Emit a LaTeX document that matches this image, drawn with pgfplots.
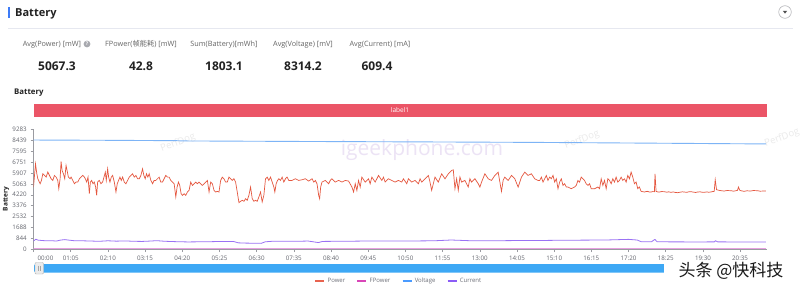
\documentclass[border=0pt]{standalone}
\usepackage{fontspec}
\setmainfont{Open Sans}
\newfontfamily\cjk{Noto Sans CJK SC}
\usepackage{pgfplots}
\usepackage{pgfplotstable}
\pgfplotsset{compat=1.18}
\definecolor{cpower}{HTML}{E5573F}
\definecolor{cfpower}{HTML}{E6A0E0}
\definecolor{cvolt}{HTML}{7DB4F6}
\definecolor{ccur}{HTML}{9A72F4}
\definecolor{lpower}{HTML}{E8634F}
\definecolor{lfpower}{HTML}{D946B8}
\definecolor{lvolt}{HTML}{4A9BFF}
\definecolor{lcur}{HTML}{8B5CF6}
\definecolor{axgray}{HTML}{6E7079}
\definecolor{barred}{HTML}{EB5567}
\definecolor{slider}{HTML}{3DA8F5}
\definecolor{headblue}{HTML}{3D7BF7}
\definecolor{sepgray}{HTML}{E6E8F0}
\definecolor{lblgray}{HTML}{666666}
\definecolor{valblack}{HTML}{222222}
\definecolor{wmpurple}{HTML}{ECE3F5}
\definecolor{wmgray}{HTML}{EAEAEA}

\pgfplotstableread{
t v
0 4821
3.5 6626
5.8 5853
7.6 5466
11.6 5079
13.9 5337
16.3 5853
19.2 5724
22.1 5595
25 5982
27.9 5724
30.8 5466
33.7 5337
36.6 5724
39.5 5595
42.4 5337
44.2 4692
46.5 5466
48.2 6807
50 6111
52.3 5853
54.6 5466
56.9 6498
58.7 6111
61 5595
63.9 5466
65.7 5595
68.6 5337
71.5 5079
74.4 5208
77.3 5208
80.2 5466
83.1 5595
86 5724
88.9 5595
90.6 5466
93 5208
95.3 5595
97.6 4305
99.4 5208
101.7 5337
104 5079
106.3 5208
108.6 4821
110.4 4176
112.1 5208
115 5337
117.9 5079
120.8 5208
123.2 5595
125.5 5982
127.2 5337
129.6 6240
131.3 5595
133.6 5208
136 5595
138.3 5724
141.2 5208
144.1 4434
146.4 5079
148.7 5337
151.1 5595
153.4 5337
155.7 5595
158.6 5208
161.5 5079
164.4 5337
167.3 5595
170.2 5724
173.1 5853
176 5595
178.9 5724
181.9 5466
184.8 5466
187.7 5724
190.6 6240
192.9 5724
195.2 5466
197.5 5853
199.9 5595
202.2 5853
205.1 5337
208 5079
210.9 5337
213.8 5337
216.7 5466
219.6 5595
222.5 5208
225.4 5208
228.3 5466
231.2 5724
234.1 5595
237 5595
240 5337
242.9 5208
245.8 5079
248.7 4048
251 4821
253.3 5208
255.6 4950
258 4305
260.3 4176
263.2 4305
266.1 4176
269 4434
271.9 4563
274.8 5208
277.7 4950
280.6 5079
283.5 5208
286.4 5079
289.3 5208
292.2 5079
295.1 4950
298.1 5079
301 5208
303.9 5337
306.8 4434
309.7 5208
312.6 5079
315.5 4563
318.4 4434
321.3 4486
324.2 4434
327.1 5337
330 5595
332.9 5466
335.8 5208
338.7 5208
341.6 5595
344.5 5466
347.4 5337
350.3 5466
353.2 5208
356.1 4434
359.1 3609
362 3712
364.9 3790
367.8 3712
370.7 3918
373.6 3790
376.5 4176
379.4 4821
382.3 3918
385.2 3712
388.1 3790
391 3712
393.9 4048
396.8 4434
399.7 3660
402.6 4176
405.5 5466
408.4 5595
411.3 5337
414.3 5595
417.2 5208
420.1 4821
421.8 4434
424.1 5079
426.5 5337
428.8 5466
431.7 5337
434.6 5595
437.5 5208
440.4 5466
443.3 5595
446.2 5337
451.9 5337
457.7 5466
463.5 5337
469.3 5388
475.1 5466
481 5285
486.8 5466
489.7 5208
492.6 5337
495.5 5079
498.4 4176
500.1 3918
501.9 4821
504.2 5208
510 5337
515.8 5079
518.7 5337
521.6 5466
527.4 5208
533.3 5337
539.1 5208
544.9 5337
550.7 5285
556.5 4821
559.4 4434
562.3 5079
565.2 4563
568.1 5337
571 4821
573.9 5595
579.7 5208
585.5 5466
588.4 5079
591.4 5595
597.2 5208
603 5724
608.8 5337
611.7 5595
614.6 5208
620.4 5466
626.2 5337
632 5208
637.8 5337
643.6 5208
646.5 5466
652.4 5079
655.3 5466
661.1 5208
666.9 5337
672.7 5079
675.6 5466
678.5 5208
684.3 5466
690.1 5724
693 5208
695.9 4563
701.7 5595
707.5 5208
713.4 5853
719.2 5466
725 5853
730.8 6111
733.7 6162
736.6 4692
739.5 5466
742.4 4563
745.3 5595
748.2 5208
754 5337
759.8 4821
762.7 5466
765.6 5208
771.5 5466
777.3 5079
780.2 4821
783.1 5208
788.9 5853
794.7 5466
800.5 5337
806.3 5724
812.1 5982
817.9 4486
820.8 5337
823.7 5595
829.6 5337
835.4 5724
841.2 5466
847 4821
852.8 5595
858.6 5982
864.4 5724
870.2 5853
876 5466
881.8 5337
884.7 5337
887.6 5595
890.5 5208
893.4 5466
896.3 5724
899.2 5337
902.1 5595
905 5466
908 5724
910.9 5208
913.8 5466
916.7 4692
919.6 5208
922.5 5466
925.4 4950
928.3 5079
931.2 4821
934.1 4821
939.9 4692
945.7 4821
948.6 4950
951.5 5337
954.4 5208
957.3 5595
960.2 5466
963.1 5337
966 5079
969 4950
971.9 5079
974.8 4692
980.6 4692
986.4 4821
989.3 4692
992.2 5466
995.1 4950
998 5337
1000.9 4692
1003.8 5466
1006.7 5337
1009.6 5079
1012.5 5466
1015.4 5208
1018.3 5595
1021.2 5208
1024.1 5337
1027 5595
1030 5337
1032.9 5466
1035.8 5208
1038.7 5724
1041.6 5466
1044.5 5982
1047.4 5595
1050.3 5079
1053.2 5208
1056.1 4692
1059 4821
1061.9 4486
1064.8 4460
1067.7 4434
1070.6 4470
1073.5 4486
1076.4 4430
1079.3 4434
1082.2 4470
1085.2 4460
1086.3 5853
1088.1 4486
1091 4440
1093.9 4434
1098 4470
1102.6 4460
1107 4420
1110 4450
1114.2 4408
1118 4440
1122 4400
1125.8 4383
1130 4420
1134 4450
1137.4 4434
1142 4410
1146 4460
1149.1 4460
1153 4430
1157 4400
1160.7 4434
1165 4450
1169 4410
1172.3 4408
1176 4440
1180 4420
1183.9 4434
1187 4470
1189.7 4486
1191.5 5388
1193.8 4615
1198.4 4563
1203 4530
1207.2 4511
1212 4550
1218.8 4537
1224 4500
1230.4 4563
1232.1 4821
1234.5 4563
1238 4520
1242 4486
1247 4530
1253.6 4511
1258 4550
1265.2 4537
1270 4500
1276.9 4511
1280 4520
}\powertab

\pgfplotstableread{
t v
0 617
4 760
8 690
15 660
22 640
30 650
40 620
48 700
55 730
62 690
70 650
85 640
100 620
115 600
130 640
145 610
160 630
175 600
190 590
205 620
215 650
230 600
250 570
270 550
290 560
310 570
330 590
350 580
358 480
370 460
385 450
398 440
405 560
420 610
440 600
460 600
480 620
498 500
505 590
530 600
560 610
600 630
650 620
700 640
730 700
760 650
800 640
850 660
880 660
920 680
960 690
1000 700
1040 750
1055 700
1062 570
1080 560
1086 750
1090 560
1120 555
1160 550
1190 555
1192 645
1196 555
1230 550
1280 550
}\currtable

\pgfplotstableread{
t v
0 8480
120 8460
250 8430
260 8410
460 8370
700 8330
880 8295
1000 8260
1150 8215
1280 8175
}\volttab

\pgfplotstableread{
t v
0 43
400 42
800 43
1280 43
}\fptab

\begin{document}
\begin{tikzpicture}
\useasboundingbox (0pt,0pt) rectangle (800pt,-289pt);
\begin{scope}[x=1pt,y=-1pt]
  \fill[white] (0,0) rectangle (800,289);
  % header
  \fill[headblue] (8,6.5) rectangle (10,18);
  \node[anchor=base west, font=\fontsize{11}{13}\selectfont\bfseries, text=valblack, inner sep=0pt] at (15,16.5) {Battery};
  \draw[axgray!50, line width=0.6pt] (785,12) circle (6.3);
  \fill[valblack!80] (782.8,10.8) -- (787.2,10.8) -- (785,13.6) -- cycle;
  \draw[sepgray, line width=0.7pt] (8,28) -- (793,28);
  % stats
  \begin{scope}[every node/.style={inner sep=0pt}]
  \node[anchor=base, font=\fontsize{7.3}{9}\selectfont, text=lblgray] at (52,46.5) {Avg(Power) [mW]};
  \fill[axgray!60] (87,44) circle (3.4);
  \node[font=\fontsize{5}{5}\selectfont\bfseries, text=white] at (87,44) {?};
  \node[anchor=base, font=\fontsize{7.3}{9}\selectfont, text=lblgray] at (141,46.5) {FPower({\cjk 帧能耗}) [mW]};
  \node[anchor=base, font=\fontsize{7.3}{9}\selectfont, text=lblgray] at (224,46.5) {Sum(Battery)[mWh]};
  \node[anchor=base, font=\fontsize{7.3}{9}\selectfont, text=lblgray] at (303,46.5) {Avg(Voltage) [mV]};
  \node[anchor=base, font=\fontsize{7.3}{9}\selectfont, text=lblgray] at (380,46.5) {Avg(Current) [mA]};
  \node[anchor=base, font=\fontsize{12}{14}\selectfont\bfseries, text=valblack] at (57,70) {5067.3};
  \node[anchor=base, font=\fontsize{12}{14}\selectfont\bfseries, text=valblack] at (141,70) {42.8};
  \node[anchor=base, font=\fontsize{12}{14}\selectfont\bfseries, text=valblack] at (224,70) {1803.1};
  \node[anchor=base, font=\fontsize{12}{14}\selectfont\bfseries, text=valblack] at (303,70) {8314.2};
  \node[anchor=base, font=\fontsize{12}{14}\selectfont\bfseries, text=valblack] at (377,70) {609.4};
  \node[anchor=base west, font=\fontsize{7.8}{9}\selectfont\bfseries, text=valblack] at (14,94) {Battery};
  \end{scope}
  % label bar
  \fill[barred] (33.5,104) rectangle (767,117);
  \node[font=\fontsize{6.5}{7}\selectfont, text=white] at (400,110.5) {label1};
  % watermarks behind plot
  \node[font=\fontsize{21}{22}\selectfont, text=wmpurple] at (422,150) {igeekphone.com};
  \foreach \px/\py in {178/143, 582/140, 782/138}
    \node[font=\fontsize{9.5}{10}\selectfont, text=wmgray, rotate=20] at (\px,\py) {PerfDog};
  % y label
  \node[font=\fontsize{6.5}{7}\selectfont\bfseries, text=valblack, rotate=90] at (6,199) {Battery};
\end{scope}

\begin{axis}[
  at={(33.5pt,-249pt)}, anchor=origin,
  scale only axis, width=733.5pt, height=119.3pt,
  xmin=0, xmax=1282, ymin=0, ymax=9283,
  axis x line*=bottom, axis y line*=left,
  axis line style={axgray!70, line width=0.5pt},
  tick style={axgray!70, line width=0.5pt},
  major tick length=3pt, tick align=outside,
  xtick={0,65,130,195,260,325,390,455,520,585,650,715,780,845,910,975,1040,1105,1170,1235},
  xticklabels={{\makebox[0pt][l]{\hspace{4pt}00:00}},01:05,02:10,03:15,04:20,05:25,06:30,07:35,08:40,09:45,10:50,11:55,13:00,14:05,15:10,16:15,17:20,18:25,19:30,20:35},
  ytick={0,843.9,1687.8,2531.7,3375.6,4219.5,5063.5,5907.4,6751.3,7595.2,8439.1,9283},
  yticklabels={0,844,1688,2532,3376,4220,5063,5907,6751,7595,8439,9283},
  /pgf/number format/assume math mode=true,
  ticklabel style={font=\fontsize{6.2}{7}\selectfont, text=axgray!90!black},
  xticklabel style={yshift=-0.5pt},
  yticklabel style={xshift=-0.3pt},
  legend columns=4,
  legend style={at={(0.498,-0.266)}, anchor=center, draw=none, fill=none,
    font=\fontsize{6}{7}\selectfont, text=axgray, inner sep=0pt,
    /tikz/every even column/.append style={column sep=9pt}},
  legend cell align=left,
  legend image code/.code={\draw[#1] (0pt,0pt) -- (9pt,0pt);},
]
\addplot[cpower, line width=0.7pt, forget plot] table[x=t, y=v] {\powertab};
\addplot[cfpower, line width=0.9pt, forget plot] table[x=t, y=v] {\fptab};
\addplot[cvolt, line width=0.9pt, forget plot] table[x=t, y=v] {\volttab};
\addplot[ccur, line width=0.8pt, line join=round, forget plot] table[x=t, y=v] {\currtable};
\addlegendimage{lpower, line width=2.4pt}
\addlegendentry{Power}
\addlegendimage{lfpower, line width=2.4pt}
\addlegendentry{FPower}
\addlegendimage{lvolt, line width=2.4pt}
\addlegendentry{Voltage}
\addlegendimage{lcur, line width=2.4pt}
\addlegendentry{Current}
\end{axis}

\begin{scope}[x=1pt,y=-1pt]
  % slider
  \fill[slider, rounded corners=2pt] (34,264) rectangle (672,272.5);
  \fill[white] (664,262) rectangle (800,286);
  \filldraw[fill=black!8, draw=black!30, line width=0.4pt, rounded corners=1pt] (35,262.5) rectangle (43.5,274);
  \draw[black!35, line width=0.4pt] (38.3,265.5) -- (38.3,271) (40.3,265.5) -- (40.3,271);
  % watermark
  \node[font=\cjk\fontsize{17}{18}\selectfont, text=black!90, inner sep=0pt] at (731,271) {头条 @快科技};
\end{scope}
\end{tikzpicture}
\end{document}
